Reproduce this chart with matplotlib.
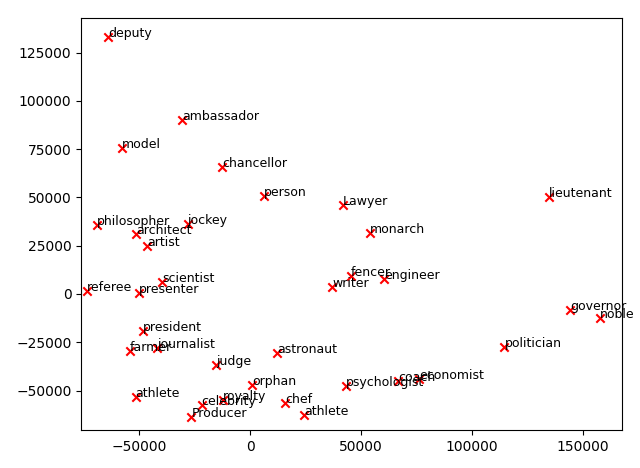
import matplotlib
matplotlib.use('Agg')
import matplotlib.pyplot as plt

words = ['deputy', 'ambassador', 'model', 'chancellor', 'person', 'Lawyer',
         'lieutenant', 'philosopher', 'jockey', 'architect', 'artist', 'monarch',
         'referee', 'presenter', 'scientist', 'fencer', 'engineer', 'writer',
         'governor', 'noble', 'president', 'farmer', 'journalist', 'judge',
         'astronaut', 'politician', 'orphan', 'psychologist', 'coach', 'economist',
         'athlete', 'royalty', 'celebrity', 'Producer', 'chef', 'athlete']
xs = [-63800, -30500, -57500, -12500, 6300, 42000,
      134800, -69000, -28100, -51200, -46300, 54200,
      -73300, -50000, -39500, 45300, 60500, 37100,
      144300, 157800, -48100, -54000, -41900, -15300,
      12200, 114600, 900, 43300, 66800, 76100,
      -51500, -12000, -21800, -26400, 15900, 24500]
ys = [133000, 90000, 75500, 65600, 50900, 46100,
      50100, 35700, 36400, 31100, 24700, 31600,
      1400, 360, 6000, 9500, 7600, 3800,
      -8300, -12600, -19200, -29700, -28000, -36600,
      -30400, -27600, -47300, -47800, -45100, -43900,
      -53500, -54900, -57500, -63900, -56500, -62900]

fig = plt.figure(figsize=(6.4, 4.68), dpi=100)
ax = fig.add_subplot(111)
fig.subplots_adjust(left=0.127, right=0.972, top=0.961, bottom=0.081)

ax.scatter(xs, ys, marker='x', color='red')
for w, x, y in zip(words, xs, ys):
    ax.annotate(w, (x, y), fontsize=9)

ax.set_xlim(-76000, 167600)
ax.set_ylim(-70500, 142800)

plt.savefig('out.png')
